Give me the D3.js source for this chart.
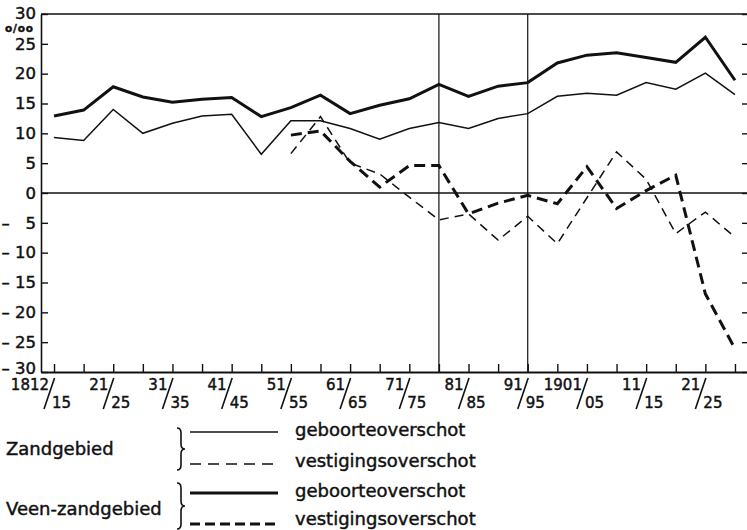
<!DOCTYPE html>
<html>
<head>
<meta charset="utf-8">
<script src="https://cdn.jsdelivr.net/npm/d3@7"></script>
<style>
  body { margin: 0; background: #fff; }
  svg { display: block; font-family: 'DejaVu Sans', 'Liberation Sans', Arial, sans-serif; }
  svg text { stroke: #111; stroke-width: 0.45px; }
</style>
</head>
<body>
<div id="chart"></div>
<script>
// #region Data
const periods = ['1812/15', '16/20', '21/25', '26/30', '31/35', '36/40', '41/45', '46/50',
  '51/55', '56/60', '61/65', '66/70', '71/75', '76/80', '81/85', '86/90',
  '91/95', '96/1900', '1901/05', '06/10', '11/15', '16/20', '21/25', '26/30'];
const dividers = [13, 16]; // 76/80 and 91/95
const yTicks = [-30, -25, -20, -15, -10, -5, 0, 5, 10, 15, 20, 25, 30];

const zandGeboorte = [9.3, 8.8, 14.0, 10.0, 11.7, 12.9, 13.2, 6.5, 12.1, 12.1, 10.8, 9.0,
  10.8, 11.8, 10.8, 12.5, 13.3, 16.2, 16.7, 16.4, 18.5, 17.4, 20.1, 16.5];
const veenGeboorte = [12.9, 13.9, 17.8, 16.1, 15.2, 15.7, 16.0, 12.8, 14.3, 16.4, 13.3, 14.7,
  15.8, 18.2, 16.2, 17.9, 18.5, 21.8, 23.1, 23.5, 22.7, 21.9, 26.1, 18.9];
const zandVestiging = [null, null, null, null, null, null, null, null,
  6.6, 12.8, 5.0, 3.2, -0.7, -4.5, -3.5, -7.9, -3.9, -8.5, -0.8, 6.9, 2.3, -6.8, -3.2, -7.4];
const veenVestiging = [null, null, null, null, null, null, null, null,
  9.7, 10.4, 5.3, 1.0, 4.6, 4.6, -3.5, -1.7, -0.4, -1.8, 4.4, -2.6, 0.4, 3.0, -16.9, -26.1];

const regions = ['Zandgebied', 'Veen-zandgebied'];
const legendItems = ['geboorteoverschot', 'vestigingsoverschot'];
// #endregion

// #region Setup SVG
const width = 747;
const height = 530;
const plot = { left: 41, right: 748, top: 14, bottom: 372 };
const ink = '#111';

const svg = d3.select('#chart').append('svg')
  .attr('width', width)
  .attr('height', height);

const x = d3.scalePoint()
  .domain(d3.range(periods.length))
  .range([plot.left, plot.right])
  .padding(0.44);

const y = d3.scaleLinear()
  .domain([-30, 30])
  .range([plot.bottom, plot.top]);
// #endregion

// #region Frame and axes
svg.append('line')
  .attr('x1', plot.left).attr('x2', plot.right)
  .attr('y1', plot.top).attr('y2', plot.top)
  .attr('stroke', ink).attr('stroke-width', 1.5);

svg.append('line')
  .attr('x1', plot.left).attr('x2', plot.right)
  .attr('y1', y(0)).attr('y2', y(0))
  .attr('stroke', ink).attr('stroke-width', 1.3);

svg.selectAll('.divider')
  .data(dividers)
  .enter()
  .append('line')
  .attr('class', 'divider')
  .attr('x1', d => x(d)).attr('x2', d => x(d))
  .attr('y1', plot.top).attr('y2', plot.bottom)
  .attr('stroke', ink).attr('stroke-width', 1.2);

const yAxis = svg.append('g')
  .attr('transform', `translate(${plot.left},0)`)
  .call(d3.axisLeft(y)
    .tickValues(yTicks)
    .tickSize(-7)
    .tickSizeOuter(0)
    .tickPadding(5)
    .tickFormat(d => (d < 0 ? '–' + (d > -10 ? '\u2007 ' : ' ') + Math.abs(d) : d)));

yAxis.select('.domain').attr('stroke', ink).attr('stroke-width', 1.6);
yAxis.selectAll('line').attr('stroke', ink).attr('stroke-width', 1.4);
yAxis.selectAll('text')
  .attr('fill', ink)
  .attr('dy', d => (d === -30 ? '0.1em' : d === 30 ? '0.28em' : '0.32em'))
  .style('font-size', '16.5px')
  .style('font-family', 'DejaVu Sans, sans-serif');

const yAxisRight = svg.append('g')
  .attr('transform', `translate(${plot.right},0)`)
  .call(d3.axisRight(y).tickValues(yTicks).tickSize(-6).tickSizeOuter(0).tickFormat(''));
yAxisRight.selectAll('line').attr('stroke', ink).attr('stroke-width', 1.4);
yAxisRight.select('.domain').attr('stroke', ink).attr('stroke-width', 1.5);

const xAxis = svg.append('g')
  .attr('transform', `translate(0,${plot.bottom})`)
  .call(d3.axisTop(x).tickSize(8).tickSizeOuter(0).tickFormat(''));
xAxis.select('.domain').attr('stroke', ink).attr('stroke-width', 2);
xAxis.selectAll('line').attr('stroke', ink).attr('stroke-width', 1.4);

// period labels, every second period: "21" / "25" with a long slash
const xLabels = svg.append('g')
  .selectAll('g')
  .data(periods.map((p, i) => ({ i, parts: p.split('/') })).filter(d => d.i % 2 === 0))
  .enter()
  .append('g')
  .attr('transform', d => `translate(${x(d.i)},0)`)
  .style('font-size', '15px')
  .attr('fill', ink);

xLabels.append('text')
  .attr('x', -5).attr('y', 390)
  .attr('text-anchor', 'end')
  .text(d => d.parts[0]);

xLabels.append('line')
  .attr('x1', 0.5).attr('y1', 378)
  .attr('x2', -10).attr('y2', 409)
  .attr('stroke', ink).attr('stroke-width', 1.6);

xLabels.append('text')
  .attr('x', -2).attr('y', 408)
  .text(d => d.parts[1]);

svg.append('text')
  .attr('x', 5).attr('y', 32)
  .style('font-size', '10.5px')
  .style('font-weight', 'bold')
  .style('letter-spacing', '0.8px')
  .attr('fill', ink)
  .text('o/oo');
// #endregion

// #region Series lines
const series = [
  { values: zandGeboorte, width: 1.5, dash: null },
  { values: veenGeboorte, width: 3, dash: null },
  { values: zandVestiging, width: 1.5, dash: '9,6' },
  { values: veenVestiging, width: 3, dash: '11,6' },
];

const line = d3.line()
  .defined(d => d != null)
  .x((d, i) => x(i))
  .y(d => y(d));

svg.append('g')
  .selectAll('path')
  .data(series)
  .enter()
  .append('path')
  .attr('d', d => line(d.values))
  .attr('fill', 'none')
  .attr('stroke', ink)
  .attr('stroke-width', d => d.width)
  .attr('stroke-dasharray', d => d.dash);
// #endregion

// #region Legend
const legendStyles = [
  [{ y: 432, width: 1.5, dash: null }, { y: 464, width: 1.5, dash: '11,7' }],
  [{ y: 493, width: 3, dash: null }, { y: 524, width: 3, dash: '10,5' }],
];
const legendBlocks = [
  { labelY: 455, braceTop: 428, braceBottom: 470, textY: [436, 467] },
  { labelY: 515, braceTop: 483, braceBottom: 529, textY: [497, 525] },
];

function bracePath(bx, y0, y1) {
  const w = 4;
  const r = 5;
  const mid = (y0 + y1) / 2;
  return `M${bx},${y0} q${w},0 ${w},${r} L${bx + w},${mid - r} q0,${r} ${w},${r}`
    + ` q${-w},0 ${-w},${r} L${bx + w},${y1 - r} q0,${r} ${-w},${r}`;
}

const legend = svg.append('g').attr('fill', ink);

regions.forEach((region, k) => {
  const block = legendBlocks[k];

  legend.append('text')
    .attr('x', 6).attr('y', block.labelY)
    .style('font-size', '18px')
    .text(region);

  legend.append('path')
    .attr('d', bracePath(177, block.braceTop, block.braceBottom))
    .attr('fill', 'none')
    .attr('stroke', ink)
    .attr('stroke-width', 1.6);

  legendItems.forEach((item, j) => {
    const st = legendStyles[k][j];
    legend.append('line')
      .attr('x1', 190).attr('x2', 278)
      .attr('y1', st.y).attr('y2', st.y)
      .attr('stroke', ink)
      .attr('stroke-width', st.width)
      .attr('stroke-dasharray', st.dash);

    legend.append('text')
      .attr('x', 295).attr('y', block.textY[j])
      .style('font-size', '18px')
      .text(item);
  });
});
// #endregion
</script>
</body>
</html>
